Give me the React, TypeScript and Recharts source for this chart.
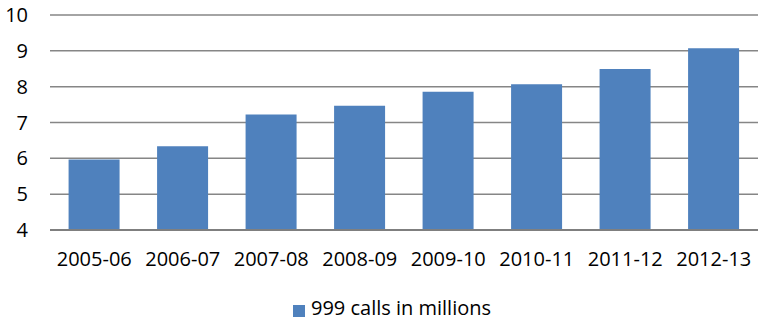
import React from "react";
import {
  BarChart,
  Bar,
  XAxis,
  YAxis,
  CartesianGrid,
  Legend,
  ReferenceLine,
} from "recharts";

const years = [
  "2005-06",
  "2006-07",
  "2007-08",
  "2008-09",
  "2009-10",
  "2010-11",
  "2011-12",
  "2012-13",
];
const calls = [5.97, 6.34, 7.22, 7.47, 7.86, 8.07, 8.49, 9.07];
const yTicks = [4, 5, 6, 7, 8, 9, 10];

const data = years.map((year, i) => ({ year, calls: calls[i] }));

const font = "'Open Sans', sans-serif";

export default function App() {
  return (
    <div style={{ position: "absolute", left: 0, top: 0, fontFamily: font }}>
      <BarChart
        width={758}
        height={321}
        data={data}
        margin={{ top: 15, right: 0, left: 0, bottom: 0 }}
        barCategoryGap="21%"
      >
        <CartesianGrid vertical={false} stroke="#868686" strokeWidth={1.5} />
        <XAxis
          dataKey="year"
          axisLine={false}
          tickLine={false}
          tickMargin={16}
          height={64}
          interval={0}
          tick={{ fill: "#000", fontSize: 20, fontFamily: font }}
        />
        <YAxis
          domain={[4, 10]}
          ticks={yTicks}
          width={50}
          axisLine={false}
          tickLine={false}
          tickMargin={16}
          tick={{ fill: "#000", fontSize: 20, fontFamily: font }}
        />
        <ReferenceLine y={4} stroke="#7f7f7f" strokeWidth={2} />
        <Legend
          verticalAlign="bottom"
          iconType="square"
          iconSize={12}
          wrapperStyle={{ left: 18 }}
          formatter={(v) => (
            <span style={{ color: "#000", fontSize: 20, fontFamily: font, marginLeft: 2 }}>{v}</span>
          )}
        />
        <Bar
          dataKey="calls"
          name="999 calls in millions"
          fill="#4F81BD"
          isAnimationActive={false}
        />
      </BarChart>
    </div>
  );
}
